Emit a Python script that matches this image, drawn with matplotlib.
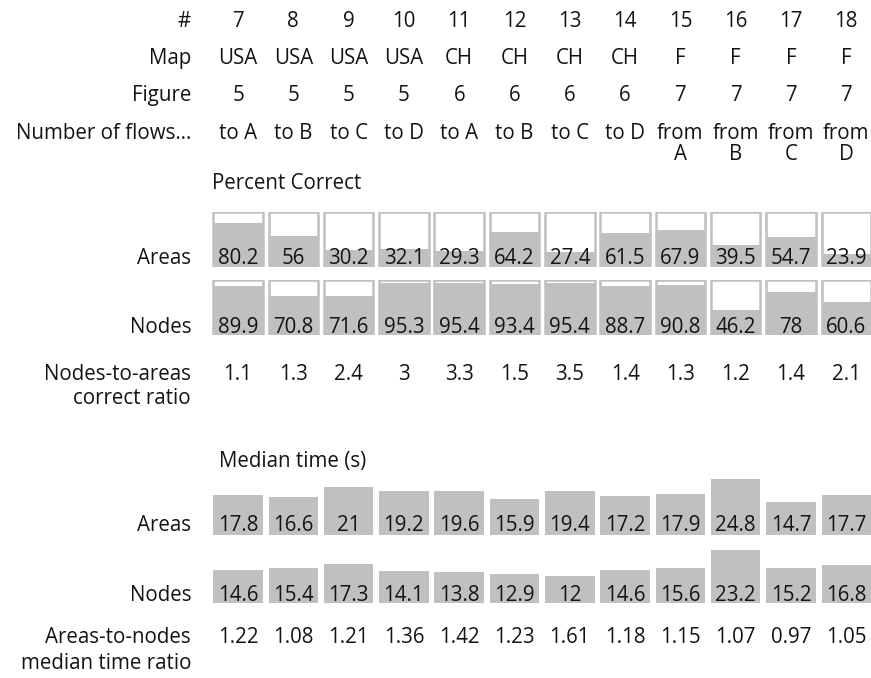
import matplotlib
matplotlib.use('Agg')
import matplotlib.pyplot as plt

plt.rcParams['font.family'] = ['Open Sans', 'DejaVu Sans']

numbers = ['7', '8', '9', '10', '11', '12', '13', '14', '15', '16', '17', '18']
maps = ['USA', 'USA', 'USA', 'USA', 'CH', 'CH', 'CH', 'CH', 'F', 'F', 'F', 'F']
figures = ['5', '5', '5', '5', '6', '6', '6', '6', '7', '7', '7', '7']
flows_1 = ['to A', 'to B', 'to C', 'to D', 'to A', 'to B', 'to C', 'to D',
           'from', 'from', 'from', 'from']
flows_2 = ['', '', '', '', '', '', '', '', 'A', 'B', 'C', 'D']

correct_areas = [80.2, 56, 30.2, 32.1, 29.3, 64.2, 27.4, 61.5, 67.9, 39.5, 54.7, 23.9]
correct_nodes = [89.9, 70.8, 71.6, 95.3, 95.4, 93.4, 95.4, 88.7, 90.8, 46.2, 78, 60.6]
correct_ratio = ['1.1', '1.3', '2.4', '3', '3.3', '1.5', '3.5', '1.4', '1.3', '1.2', '1.4', '2.1']

time_areas = [17.8, 16.6, 21, 19.2, 19.6, 15.9, 19.4, 17.2, 17.9, 24.8, 14.7, 17.7]
time_nodes = [14.6, 15.4, 17.3, 14.1, 13.8, 12.9, 12, 14.6, 15.6, 23.2, 15.2, 16.8]
time_ratio = ['1.22', '1.08', '1.21', '1.36', '1.42', '1.23', '1.61', '1.18',
              '1.15', '1.07', '0.97', '1.05']

W, H = 871, 678
GRAY = '#c0c0c0'
TXT = '#141414'
FS = 14.8

fig = plt.figure(figsize=(W / 100, H / 100), dpi=100)

x0 = 238
step = 55.3
cols = range(len(numbers))
bw = 0.895


def fx(px):
    return px / W


def fy(py):
    return 1 - py / H


def col_x(i):
    return fx(x0 + step * i)


def label(text, y):
    fig.text(fx(191), fy(y), text, ha='right', va='baseline', fontsize=FS, color=TXT)


def row(values, y):
    for i, v in enumerate(values):
        if v:
            fig.text(col_x(i), fy(y), v, ha='center', va='baseline', fontsize=FS, color=TXT)


def make_ax(top_px, bottom_px, ymax):
    ax = fig.add_axes([fx(x0 - step / 2), fy(bottom_px),
                       step * 12 / W, (bottom_px - top_px) / H])
    ax.set_xlim(-0.5, 11.5)
    ax.set_ylim(0, ymax)
    ax.axis('off')
    return ax


# header rows
label('#', 27)
row(numbers, 27)
label('Map', 64)
row(maps, 64)
label('Figure', 101)
row(figures, 101)
label('Number of flows\u2026', 139)
row(flows_1, 139)
row(flows_2, 160)

# percent correct
fig.text(fx(212), fy(189), 'Percent Correct', ha='left', va='baseline', fontsize=FS, color=TXT)
for vals, top, bot, name, base in [(correct_areas, 212, 267, 'Areas', 264),
                                   (correct_nodes, 280, 335, 'Nodes', 333)]:
    ax = make_ax(top, bot, 100)
    ax.bar(cols, [100] * 12, width=bw, color='white', edgecolor=GRAY, linewidth=1.8)
    ax.bar(cols, vals, width=bw, color=GRAY, linewidth=0)
    label(name, base)
    row([f'{v:g}' for v in vals], base)

fig.text(fx(191), fy(380), 'Nodes-to-areas', ha='right', va='baseline', fontsize=FS, color=TXT)
fig.text(fx(191), fy(404), 'correct ratio', ha='right', va='baseline', fontsize=FS, color=TXT)
row(correct_ratio, 380)

# median time
fig.text(fx(219), fy(467), 'Median time (s)', ha='left', va='baseline', fontsize=FS, color=TXT)
px_per_s = 2.27
for vals, bot, name, base in [(time_areas, 535, 'Areas', 531),
                              (time_nodes, 603, 'Nodes', 601)]:
    ax = make_ax(bot - 26 * px_per_s, bot, 26)
    ax.bar(cols, vals, width=bw, color=GRAY, linewidth=0)
    label(name, base)
    row([f'{v:g}' for v in vals], base)

fig.text(fx(191), fy(643), 'Areas-to-nodes', ha='right', va='baseline', fontsize=FS, color=TXT)
fig.text(fx(191), fy(669), 'median time ratio', ha='right', va='baseline', fontsize=FS, color=TXT)
row(time_ratio, 643)

fig.savefig('out.png', dpi=100)
